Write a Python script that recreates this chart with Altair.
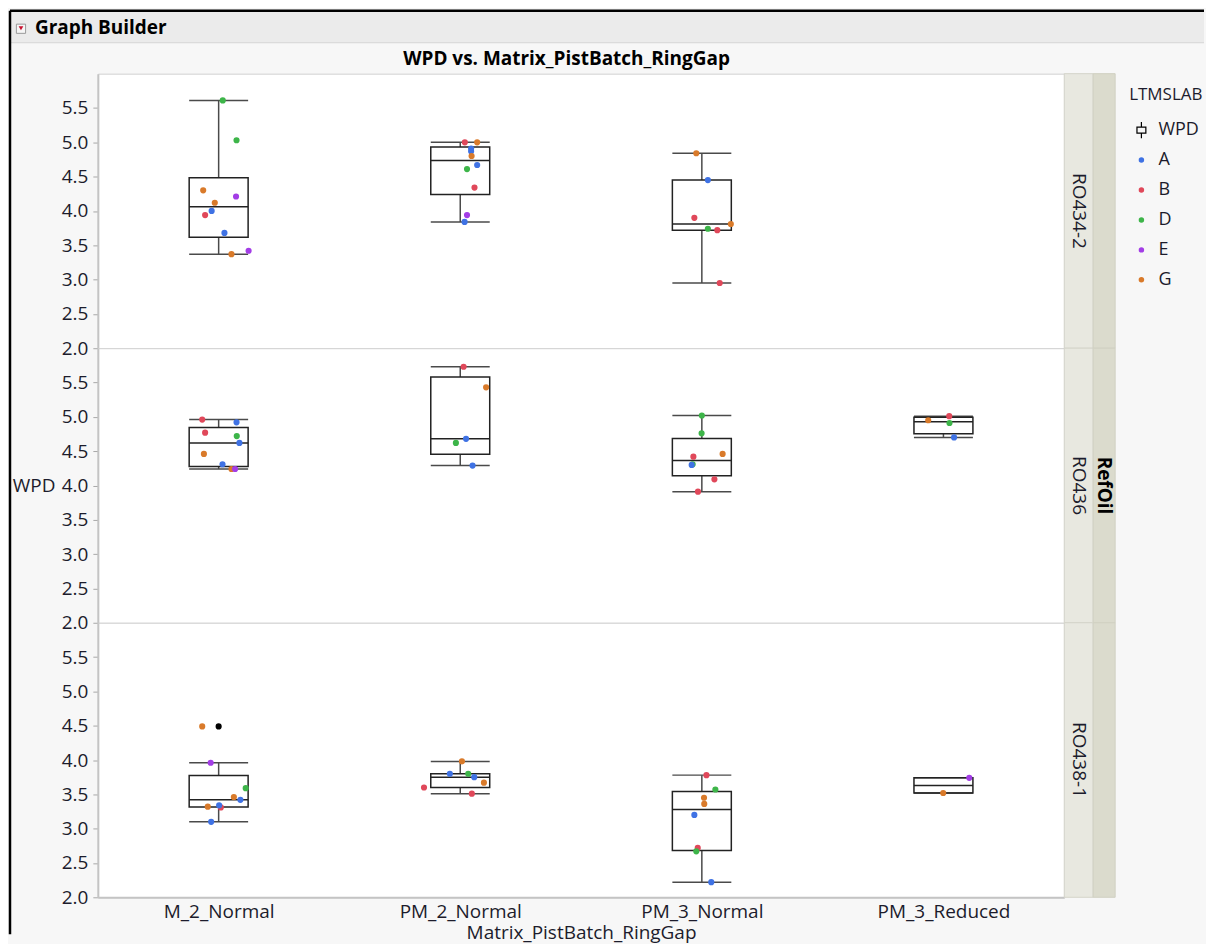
import altair as alt
import numpy as np
import pandas as pd

# ---------------- data ----------------
window_title = "Graph Builder"
chart_title = "WPD vs. Matrix_PistBatch_RingGap"
facet_var = "RefOil"
ref_oils = ["RO434-2", "RO436", "RO438-1"]
categories = ["M_2_Normal", "PM_2_Normal", "PM_3_Normal", "PM_3_Reduced"]
labs = ["A", "B", "D", "E", "G"]
lab_colors = ["#3f72e4", "#e0485a", "#3db549", "#a33de6", "#d97a2a"]
y_ticks = [2.0, 2.5, 3.0, 3.5, 4.0, 4.5, 5.0, 5.5]

# one entry per test (jitter = horizontal jitter in category units)
oil = (["RO434-2"] * 27 + ["RO436"] * 26 + ["RO438-1"] * 26)
cat = (["M_2_Normal"] * 10 + ["PM_2_Normal"] * 10 + ["PM_3_Normal"] * 7
       + ["M_2_Normal"] * 9 + ["PM_2_Normal"] * 5 + ["PM_3_Normal"] * 8 + ["PM_3_Reduced"] * 4
       + ["M_2_Normal"] * 9 + ["PM_2_Normal"] * 7 + ["PM_3_Normal"] * 8 + ["PM_3_Reduced"] * 2)
lab = ["D", "D", "G", "E", "G", "A", "B", "A", "G", "E",
       "B", "G", "A", "A", "G", "A", "D", "B", "E", "A",
       "G", "A", "B", "G", "D", "B", "B",
       "B", "A", "B", "D", "A", "G", "A", "G", "E",
       "B", "G", "A", "D", "A",
       "D", "D", "G", "B", "D", "A", "B", "B",
       "G", "B", "D", "A",
       "G", "E", "D", "G", "A", "G", "B", "A", "A",
       "G", "A", "D", "A", "G", "B", "B",
       "B", "D", "G", "G", "A", "B", "D", "A",
       "E", "G"]
wpd = [5.61, 5.03, 4.30, 4.21, 4.12, 4.00, 3.94, 3.68, 3.37, 3.42,
       5.00, 5.00, 4.91, 4.87, 4.80, 4.67, 4.61, 4.34, 3.94, 3.84,
       4.84, 4.45, 3.90, 3.81, 3.74, 3.72, 2.95,
       4.96, 4.92, 4.77, 4.72, 4.62, 4.46, 4.31, 4.24, 4.24,
       5.73, 5.43, 4.68, 4.62, 4.29,
       5.02, 4.76, 4.46, 4.42, 4.31, 4.30, 4.09, 3.91,
       4.95, 5.01, 4.91, 4.70,
       4.49, 3.96, 3.59, 3.46, 3.42, 3.32, 3.31, 3.34, 3.10,
       3.98, 3.80, 3.80, 3.75, 3.67, 3.60, 3.51,
       3.78, 3.57, 3.45, 3.36, 3.20, 2.72, 2.67, 2.22,
       3.74, 3.52]
jitter = [0.017, 0.074, -0.064, 0.072, -0.016, -0.029, -0.056, 0.024, 0.053, 0.124,
          0.019, 0.070, 0.045, 0.045, 0.047, 0.070, 0.028, 0.059, 0.028, 0.018,
          -0.023, 0.025, -0.031, 0.120, 0.025, 0.064, 0.074,
          -0.068, 0.074, -0.056, 0.075, 0.086, -0.061, 0.016, 0.053, 0.068,
          0.014, 0.107, 0.024, -0.018, 0.051,
          0.000, -0.001, 0.086, -0.035, -0.038, -0.042, 0.052, -0.016,
          -0.063, 0.024, 0.025, 0.044,
          -0.068, -0.033, 0.112, 0.063, 0.090, -0.045, 0.009, 0.002, -0.031,
          0.007, -0.043, 0.033, 0.058, 0.098, -0.150, 0.048,
          0.019, 0.056, 0.009, 0.010, -0.031, -0.017, -0.023, 0.039,
          0.107, -0.001]

# ---------------- tables built from the lists ----------------
pts = pd.DataFrame({"oil": oil, "cat": cat, "lab": lab, "wpd": wpd, "jit": jitter})
pts["idx"] = pts["cat"].map(categories.index)
pts["xpos"] = pts["idx"] + pts["jit"]

box_rows, out_rows = [], []
for (o, i), g in pts.groupby(["oil", "idx"]):
    v = np.sort(g["wpd"].to_numpy())
    q1, med, q3 = np.quantile(v, [0.25, 0.5, 0.75], method="weibull")
    iqr = q3 - q1
    inside = v[(v >= q1 - 1.5 * iqr) & (v <= q3 + 1.5 * iqr)]
    box_rows.append({"oil": o, "idx": i, "q1": q1, "med": med, "q3": q3,
                     "lo": inside.min(), "hi": inside.max()})
    for val in v[(v < q1 - 1.5 * iqr) | (v > q3 + 1.5 * iqr)]:
        out_rows.append({"oil": o, "idx": i, "wpd": val})
boxes = pd.DataFrame(box_rows)
outl = pd.DataFrame(out_rows, columns=["oil", "idx", "wpd"])
strip_df = pd.DataFrame({"oil": ref_oils})
var_df = pd.DataFrame({"oil": ["RO436"], "var": [facet_var]})
frame_df = pd.DataFrame({"title": [chart_title], "window": [window_title]})

# ---------------- styling ----------------
FONT = "Open Sans"
TXT = "#1c1c2c"
FS = 19
W, H = 968, 275
HALF = 0.122
BOXC = "#222222"
WHISK = "#4a4a4a"
label_expr = "[" + ",".join("'%s'" % c for c in categories) + "][datum.value]"

xscale = alt.Scale(domain=[-0.5, 3.5], nice=False, zero=False)
yscale = alt.Scale(domain=[2, 6], nice=False, zero=False)
legend_items = ["WPD"] + labs
box_icon = ("M-1.85,-1.3H1.85V1.3H-1.85Z M-1.4,-0.85V0.85H1.4V-0.85Z "
            "M-0.22,-2.95H0.22V-1.3H-0.22Z M-0.22,1.3H0.22V2.95H-0.22Z")
color_scale = alt.Scale(domain=legend_items, range=["#000000"] + lab_colors)
shape_scale = alt.Scale(domain=legend_items, range=[box_icon] + ["circle"] * len(labs))
legend = alt.Legend(title="LTMSLAB", orient="none", legendX=1033, legendY=13,
                    symbolSize=30, symbolOffset=3.3, labelOffset=8,
                    symbolStrokeWidth=0, padding=0, rowPadding=12, titlePadding=17.5,
                    labelFontSize=18, titleFontSize=17, titleFontWeight="normal",
                    titleColor=TXT, labelColor=TXT, labelFont=FONT, titleFont=FONT)


def panel(k):
    o = ref_oils[k]
    last = k == 2
    if last:
        xaxis = alt.Axis(values=[0, 1, 2, 3], labelExpr=label_expr, ticks=False, grid=False,
                         domainColor="#c4c4c4", domainWidth=2, labelFontSize=FS,
                         labelColor=TXT, labelPadding=5, title="Matrix_PistBatch_RingGap",
                         titleFontSize=FS, titleFontWeight="normal", titleColor=TXT,
                         titlePadding=2)
    else:
        xaxis = None
    ykw = dict(values=y_ticks, format=".1f", grid=False, tickSize=5, tickColor="#a8a8a8",
               domainColor="#c4c4c4", domainWidth=2, labelFontSize=FS, labelColor=TXT,
               labelPadding=5, labelOverlap=False, tickCount=len(y_ticks))
    if k == 1:
        ykw.update(title="WPD", titleAngle=0, titleAlign="right", titleBaseline="middle",
                   titleX=-43, titleY=H / 2, titleFontSize=FS, titleFontWeight="normal",
                   titleColor=TXT)
    else:
        ykw.update(title=None)
    yaxis = alt.Axis(**ykw)

    def X(f):
        return alt.X(f, type="quantitative", scale=xscale, axis=xaxis)

    def Y(f):
        return alt.Y(f, type="quantitative", scale=yscale, axis=yaxis)

    bb = (alt.Chart(boxes).transform_filter(alt.datum.oil == o)
          .transform_calculate(x1="datum.idx - %f" % HALF, x2="datum.idx + %f" % HALF))
    stem_lo = bb.mark_rule(color=WHISK, strokeWidth=1.5).encode(
        x=X("idx"), y=Y("lo"), y2="q1:Q")
    stem_hi = bb.mark_rule(color=WHISK, strokeWidth=1.5).encode(
        x=X("idx"), y=Y("q3"), y2="hi:Q")
    cap_lo = bb.mark_rule(color=WHISK, strokeWidth=1.5).encode(x=X("x1"), x2="x2:Q", y=Y("lo"))
    cap_hi = bb.mark_rule(color=WHISK, strokeWidth=1.5).encode(x=X("x1"), x2="x2:Q", y=Y("hi"))
    box = bb.mark_rect(filled=False, color=BOXC, strokeWidth=1.5).encode(
        x=X("x1"), x2="x2:Q", y=Y("q1"), y2="q3:Q")
    med = bb.mark_rule(color=BOXC, strokeWidth=1.5).encode(x=X("x1"), x2="x2:Q", y=Y("med"))
    outs = alt.Chart(outl).transform_filter(alt.datum.oil == o).mark_circle(
        color="black", size=38, opacity=1).encode(x=X("idx"), y=Y("wpd"))
    points = alt.Chart(pts).transform_filter(alt.datum.oil == o).mark_point(
        filled=True, size=38, opacity=1, strokeWidth=0).encode(
        x=X("xpos"), y=Y("wpd"),
        color=alt.Color("lab:N", scale=color_scale, legend=legend),
        shape=alt.Shape("lab:N", scale=shape_scale, legend=legend))

    sd = alt.Chart(strip_df).transform_filter(alt.datum.oil == o)
    strip1 = sd.mark_rect(fill="#e8e8e0", stroke="#d4d4ca", strokeWidth=1).encode(
        x=alt.value(W), x2=alt.value(W + 29), y=alt.value(0), y2=alt.value(H))
    strip2 = sd.mark_rect(fill="#dbdbcd", stroke="#d0d0c2", strokeWidth=1).encode(
        x=alt.value(W + 29), x2=alt.value(W + 51), y=alt.value(0), y2=alt.value(H))
    strip_txt = sd.mark_text(angle=90, fontSize=FS, color=TXT, align="center",
                             baseline="middle").encode(
        x=alt.value(W + 14.5), y=alt.value(H / 2), text="oil:N")
    layers = [stem_lo, stem_hi, cap_lo, cap_hi, box, med, outs, points, strip1, strip2, strip_txt]

    if k == 1:
        var_txt = alt.Chart(var_df).mark_text(angle=90, fontSize=FS, fontWeight="bold",
                                              color="black", align="center",
                                              baseline="middle").encode(
            x=alt.value(W + 40), y=alt.value(H / 2), text="var:N")
        layers.append(var_txt)
    if k == 0:
        fr = alt.Chart(frame_df)
        header = fr.mark_rect(fill="#ebebeb").encode(
            x=alt.value(-88), x2=alt.value(1108), y=alt.value(-63), y2=alt.value(-31))
        header_line = fr.mark_rule(color="#d6d6d6", strokeWidth=1).encode(
            x=alt.value(-88), x2=alt.value(1108), y=alt.value(-31))
        border_top = fr.mark_rule(color="black", strokeWidth=2.5).encode(
            x=alt.value(-88), x2=alt.value(1108), y=alt.value(-63))
        border_left = fr.mark_rule(color="black", strokeWidth=2.5).encode(
            x=alt.value(-88), y=alt.value(-63), y2=alt.value(862))
        icon_box = fr.mark_point(shape="square", filled=True, fill="#f6f6f6", stroke="#9a9a9a",
                                 strokeWidth=1, size=85, opacity=1).encode(
            x=alt.value(-77), y=alt.value(-45))
        icon_tri = fr.mark_point(shape="triangle-down", filled=True, color="#c8102e",
                                 size=22, opacity=1).encode(x=alt.value(-77), y=alt.value(-45.5))
        win_txt = fr.mark_text(align="left", baseline="alphabetic", fontSize=FS,
                               fontWeight="bold", color="black").encode(
            x=alt.value(-63), y=alt.value(-40), text="window:N")
        title_txt = fr.mark_text(align="center", baseline="middle", fontSize=FS,
                                 fontWeight="bold", color="black").encode(
            x=alt.value(469.5), y=alt.value(-15), text="title:N")
        layers += [header, header_line, border_top, border_left, icon_box, icon_tri,
                   win_txt, title_txt]
    return alt.layer(*layers).properties(width=W, height=H)


chart = alt.vconcat(panel(0), panel(1), panel(2), spacing=0, bounds="flush").properties(
    padding=0, background="#f7f7f7"
).configure(font=FONT).configure_view(
    fill="white", stroke="#d2d2d2", strokeWidth=1
).configure_axisY(labelOverlap=False)

chart.save("out.html", embed_options={"renderer": "svg", "actions": False})
